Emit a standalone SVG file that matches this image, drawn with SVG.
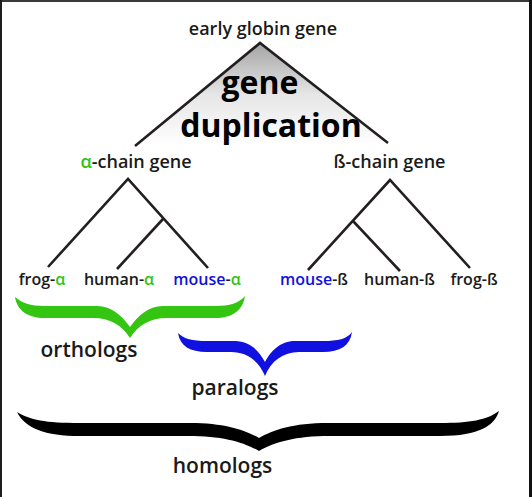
<svg xmlns="http://www.w3.org/2000/svg" width="532" height="497" viewBox="0 0 532 497">
<style>
.t{font-family:"Open Sans","Noto Sans","DejaVu Sans",sans-serif;font-weight:600;fill:#1a1a1a;text-anchor:middle}
.big{font-family:"Open Sans","Noto Sans","DejaVu Sans",sans-serif;font-weight:700;fill:#000;font-size:32px;text-anchor:middle}
.ln{stroke:#231f20;stroke-width:2.6;fill:none;stroke-linecap:butt}
.g{fill:#33c511}
.b{fill:#1010e0}
</style>
<defs>
<linearGradient id="fade" x1="0" y1="43" x2="0" y2="146" gradientUnits="userSpaceOnUse">
<stop offset="0" stop-color="#a4a4a4"/>
<stop offset="0.5" stop-color="#e6e6e6"/>
<stop offset="1" stop-color="#ffffff"/>
</linearGradient>
</defs>
<rect x="0" y="0" width="532" height="497" fill="#ffffff"/>
<rect x="0" y="0" width="532" height="2" fill="#3a3a3a"/>
<rect x="0" y="0" width="2" height="497" fill="#1e1e1e"/>
<rect x="529" y="0" width="3" height="497" fill="#111"/>

<polygon points="260,43 135,146 388,143" fill="url(#fade)"/>

<g id="connectors">
<polyline class="ln" points="135,146 260,43 388,143"/>
<polyline class="ln" points="48,267 128,179 208,268"/>
<line class="ln" x1="163" y1="219" x2="117" y2="269"/>
<polyline class="ln" points="308,270 390,180 470,268"/>
<line class="ln" x1="353" y1="221" x2="400" y2="271"/>
</g>

<g id="early">
<text class="t" x="263" y="35" font-size="18">early globin gene</text>
</g>
<g id="duplication">
<text class="big" x="260" y="94">gene</text>
<text class="big" x="271" y="137">duplication</text>
</g>
<g id="alpha-chain">
<text class="t" x="136" y="168" font-size="18"><tspan class="g">α</tspan>-chain gene</text>
</g>
<g id="beta-chain">
<text class="t" x="389.5" y="168" font-size="18">ß-chain gene</text>
</g>
<g id="frog-alpha"><text class="t" x="42" y="285" font-size="16">frog-<tspan class="g">α</tspan></text></g>
<g id="human-alpha"><text class="t" x="119" y="285" font-size="16">human-<tspan class="g">α</tspan></text></g>
<g id="mouse-alpha"><text class="t" x="207" y="285" font-size="16"><tspan class="b">mouse</tspan>-<tspan class="g">α</tspan></text></g>
<g id="mouse-beta"><text class="t" x="314" y="285" font-size="16"><tspan class="b">mouse</tspan>-ß</text></g>
<g id="human-beta"><text class="t" x="399.5" y="285" font-size="16">human-ß</text></g>
<g id="frog-beta"><text class="t" x="474" y="285" font-size="16">frog-ß</text></g>

<g id="orthologs">
<path class="g" d="M15,297 C22,303 30,306 45,306 L97,306 C112,306 122,316 130,327 C138,316 148,306 163,306 L215,306 C230,306 239,303 245,296 C243,310 233,318 215,318 L167,318 C150,318 138,325 130,338 C122,325 110,318 93,318 L45,318 C27,318 17,310 15,297 Z"/>
<text class="t" x="89" y="357" font-size="21">orthologs</text>
</g>
<g id="paralogs">
<path class="b" d="M178,333 C184,339 192,341 207,341 L235,341 C250,341 259,351 265,362 C271,351 280,341 295,341 L323,341 C338,341 347,339 352,332 C350,346 340,352 323,352 L299,352 C283,352 271,361 265,376 C259,361 247,352 231,352 L207,352 C190,352 180,346 178,333 Z"/>
<text class="t" x="235" y="395" font-size="21">paralogs</text>
</g>
<g id="homologs">
<path fill="#000" d="M17,412 C30,420 45,423 80,423 L190,423 C225,423 245,430 259,438 C273,430 293,423 328,423 L440,423 C470,423 487,420 499,411 C495,425 480,436 440,436 L330,436 C295,436 275,442 259,451 C243,442 223,436 188,436 L80,436 C45,436 25,428 17,412 Z"/>
<text class="t" x="222.5" y="473" font-size="21">homologs</text>
</g>
</svg>
